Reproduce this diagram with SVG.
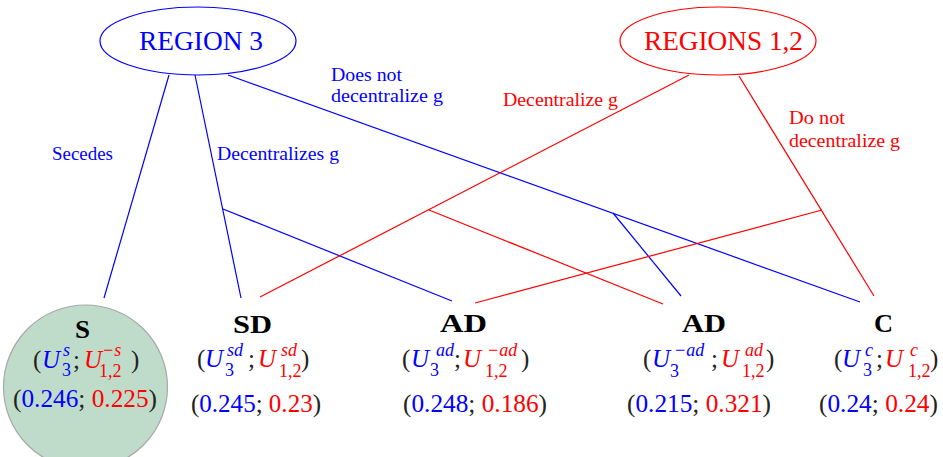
<svg xmlns="http://www.w3.org/2000/svg" width="943" height="457" viewBox="0 0 943 457">
<style>
.m{font-family:'Liberation Serif',serif;font-size:25px}
.it{font-style:italic}
.sp{font-size:18px;font-style:italic}
.sb{font-size:18px}
.b{fill:#0000ff}
.r{fill:#ff0000}
.k{fill:#222}
.lb{font-family:'Liberation Serif',serif;font-size:18.5px}
.hd{font-family:'Liberation Serif',serif;font-size:26px;font-weight:bold;fill:#000}
.rg{font-family:'Liberation Serif',serif;font-size:27px}
.bl{stroke:#0000ff;stroke-width:1.2;fill:none}
.rl{stroke:#ff0000;stroke-width:1.2;fill:none}
</style>
<rect width="943" height="457" fill="#ffffff"/>
<g id="connectors">
<line class="bl" x1="169" y1="75" x2="104" y2="298"/>
<line class="bl" x1="195" y1="75" x2="241" y2="298"/>
<line class="bl" x1="223" y1="209" x2="452" y2="301"/>
<line class="bl" x1="228" y1="75" x2="860" y2="302"/>
<line class="bl" x1="613" y1="213" x2="681" y2="296"/>
<line class="rl" x1="689" y1="75" x2="260" y2="297"/>
<line class="rl" x1="429" y1="210" x2="663" y2="304"/>
<line class="rl" x1="739" y1="76" x2="874" y2="296"/>
<line class="rl" x1="822" y1="210" x2="475" y2="303"/>
</g>
<g id="edge-labels">
<text class="lb b" x="52" y="160" textLength="61" lengthAdjust="spacingAndGlyphs">Secedes</text>
<text class="lb b" x="217" y="160" textLength="122" lengthAdjust="spacingAndGlyphs">Decentralizes g</text>
<text class="lb b" x="331" y="81" textLength="71" lengthAdjust="spacingAndGlyphs">Does not</text>
<text class="lb b" x="331" y="102" textLength="112" lengthAdjust="spacingAndGlyphs">decentralize g</text>
<text class="lb r" x="503" y="106" textLength="115" lengthAdjust="spacingAndGlyphs">Decentralize g</text>
<text class="lb r" x="789" y="124" textLength="56" lengthAdjust="spacingAndGlyphs">Do not</text>
<text class="lb r" x="789" y="147" textLength="111" lengthAdjust="spacingAndGlyphs">decentralize g</text>
</g>
<g id="region3">
<ellipse cx="198" cy="41" rx="98" ry="34" fill="none" stroke="#0000ff" stroke-width="1.2"/>
<text class="rg b" x="139" y="50" textLength="124" lengthAdjust="spacingAndGlyphs">REGION 3</text>
</g>
<g id="regions12">
<ellipse cx="718" cy="41" rx="98" ry="34" fill="none" stroke="#ff0000" stroke-width="1.2"/>
<text class="rg r" x="644" y="50" textLength="159" lengthAdjust="spacingAndGlyphs">REGIONS 1,2</text>
</g>
<g id="leaf-s">
<circle cx="85.5" cy="387" r="82" fill="#bfdccb" stroke="#a8a8a8" stroke-width="1.2"/>
<text class="hd" x="75" y="338" textLength="15" lengthAdjust="spacingAndGlyphs">S</text>
<text class="m"><tspan class="k" x="33" y="368">(</tspan><tspan class="b it" x="42" y="368">U</tspan><tspan class="b sp" x="63" y="356">s</tspan><tspan class="b sb" x="62" y="376">3</tspan><tspan class="k" x="73" y="368">;</tspan><tspan class="r it" x="84" y="368">U</tspan><tspan class="r sp" x="102" y="356">−s</tspan><tspan class="r sb" x="99" y="377">1,2</tspan><tspan class="k" x="131" y="368">)</tspan></text>
<text class="m" x="13" y="407" textLength="144" lengthAdjust="spacingAndGlyphs"><tspan class="k">(</tspan><tspan class="b">0.246</tspan><tspan class="k">; </tspan><tspan class="r">0.225</tspan><tspan class="k">)</tspan></text>
</g>
<g id="leaf-sd">
<text class="hd" x="233" y="333" textLength="39" lengthAdjust="spacingAndGlyphs">SD</text>
<text class="m"><tspan class="k" x="197" y="367">(</tspan><tspan class="b it" x="205" y="367">U</tspan><tspan class="b sp" x="227" y="356">sd</tspan><tspan class="b sb" x="225" y="376">3</tspan><tspan class="k" x="248" y="367">;</tspan><tspan class="r it" x="258" y="367">U</tspan><tspan class="r sp" x="281" y="356">sd</tspan><tspan class="r sb" x="279" y="377">1,2</tspan><tspan class="k" x="301" y="367">)</tspan></text>
<text class="m" x="191" y="412" textLength="130" lengthAdjust="spacingAndGlyphs"><tspan class="k">(</tspan><tspan class="b">0.245</tspan><tspan class="k">; </tspan><tspan class="r">0.23</tspan><tspan class="k">)</tspan></text>
</g>
<g id="leaf-ad1">
<text class="hd" x="440" y="332" textLength="47" lengthAdjust="spacingAndGlyphs">AD</text>
<text class="m"><tspan class="k" x="402" y="367">(</tspan><tspan class="b it" x="411" y="367">U</tspan><tspan class="b sp" x="436" y="356">ad</tspan><tspan class="b sb" x="430" y="376">3</tspan><tspan class="k" x="454" y="367">;</tspan><tspan class="r it" x="463" y="367">U</tspan><tspan class="r sp" x="487" y="356">−ad</tspan><tspan class="r sb" x="485" y="377">1,2</tspan><tspan class="k" x="521" y="367">)</tspan></text>
<text class="m" x="403" y="412" textLength="144" lengthAdjust="spacingAndGlyphs"><tspan class="k">(</tspan><tspan class="b">0.248</tspan><tspan class="k">; </tspan><tspan class="r">0.186</tspan><tspan class="k">)</tspan></text>
</g>
<g id="leaf-ad2">
<text class="hd" x="682" y="332" textLength="44" lengthAdjust="spacingAndGlyphs">AD</text>
<text class="m"><tspan class="k" x="643" y="367">(</tspan><tspan class="b it" x="652" y="367">U</tspan><tspan class="b sp" x="674" y="356">−ad</tspan><tspan class="b sb" x="670" y="377">3</tspan><tspan class="k" x="711" y="367">;</tspan><tspan class="r it" x="721" y="367">U</tspan><tspan class="r sp" x="745" y="356">ad</tspan><tspan class="r sb" x="742" y="377">1,2</tspan><tspan class="k" x="766" y="367">)</tspan></text>
<text class="m" x="627" y="412" textLength="144" lengthAdjust="spacingAndGlyphs"><tspan class="k">(</tspan><tspan class="b">0.215</tspan><tspan class="k">; </tspan><tspan class="r">0.321</tspan><tspan class="k">)</tspan></text>
</g>
<g id="leaf-c">
<text class="hd" x="874" y="332" textLength="19" lengthAdjust="spacingAndGlyphs">C</text>
<text class="m"><tspan class="k" x="834" y="367">(</tspan><tspan class="b it" x="842" y="367">U</tspan><tspan class="b sp" x="865" y="356">c</tspan><tspan class="b sb" x="863" y="376">3</tspan><tspan class="k" x="876" y="367">;</tspan><tspan class="r it" x="885" y="367">U</tspan><tspan class="r sp" x="910" y="356">c</tspan><tspan class="r sb" x="908" y="377">1,2</tspan><tspan class="k" x="930" y="367">)</tspan></text>
<text class="m" x="819" y="412" textLength="119" lengthAdjust="spacingAndGlyphs"><tspan class="k">(</tspan><tspan class="b">0.24</tspan><tspan class="k">; </tspan><tspan class="r">0.24</tspan><tspan class="k">)</tspan></text>
</g>
</svg>
